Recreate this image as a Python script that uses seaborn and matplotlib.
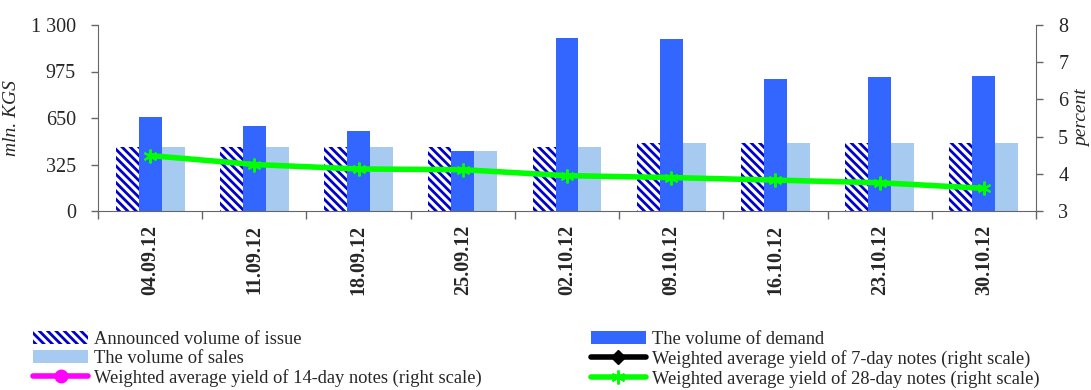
import numpy as np
import pandas as pd
import matplotlib
matplotlib.use("Agg")
import matplotlib.pyplot as plt
from matplotlib.patches import Patch
from matplotlib.lines import Line2D
from matplotlib.ticker import FixedLocator, NullFormatter, FixedFormatter
import seaborn as sns

# ---- data ----
dates = ["04.09.12", "11.09.12", "18.09.12", "25.09.12", "02.10.12",
         "09.10.12", "16.10.12", "23.10.12", "30.10.12"]
announced = [450, 450, 450, 450, 450, 473, 473, 474, 474]
demand = [655, 592, 559, 421, 1207, 1200, 924, 934, 944]
sales = [450, 450, 450, 421, 450, 473, 473, 474, 474]
yield_7 = [np.nan] * 9
yield_14 = [np.nan] * 9
yield_28 = [4.49, 4.25, 4.13, 4.11, 3.95, 3.90, 3.83, 3.76, 3.61]

left_ticks = [0, 325, 650, 975, 1300]
left_labels = ["0", "325", "650", "975", "1 300"]
right_ticks = [3, 4, 5, 6, 7, 8]

series_names = ["Announced volume of issue", "The volume of demand", "The volume of sales"]
c_hatch = "#0000CC"
c_demand = "#3366FF"
c_sales = "#A6CAF0"
c_green = "#00FF00"

sns.set_style("ticks")
plt.rcParams["font.family"] = ["Liberation Serif", "DejaVu Serif"]
plt.rcParams["hatch.linewidth"] = 2.0
axis_col = "#666666"

df = pd.DataFrame({
    "date": dates * 3,
    "value": announced + demand + sales,
    "series": [series_names[0]] * 9 + [series_names[1]] * 9 + [series_names[2]] * 9,
})

fig = plt.figure(figsize=(10.91, 3.90), dpi=100)
ax = fig.add_axes([98 / 1091, 1 - 211 / 390, (1036 - 98) / 1091, (211 - 25) / 390])

sns.barplot(data=df, x="date", y="value", hue="series", hue_order=series_names,
            palette=["white", c_demand, c_sales], width=0.66, gap=0,
            ax=ax, legend=False, errorbar=None, saturation=1)

for i, cont in enumerate(ax.containers):
    for p in cont.patches:
        p.set_linewidth(0)
        if i == 0:
            p.set_facecolor("white")
            p.set_edgecolor(c_hatch)
            p.set_hatch("\\\\\\\\")
        else:
            p.set_edgecolor(p.get_facecolor())

n = len(dates)
ax.set_xlim(-0.5, n - 0.5)
ax.set_ylim(0, 1300)
ax.set_yticks(left_ticks)
ax.set_yticklabels(left_labels)
ax.set_ylabel("mln. KGS", fontsize=14, style="italic")
ax.yaxis.set_label_coords(-0.083, 0.5)
ax.set_xlabel("")

# x ticks: marks at category boundaries, labels at centres
ax.xaxis.set_major_locator(FixedLocator(np.arange(-0.5, n, 1.0)))
ax.xaxis.set_major_formatter(NullFormatter())
ax.xaxis.set_minor_locator(FixedLocator(np.arange(n)))
ax.xaxis.set_minor_formatter(FixedFormatter(dates))
ax.tick_params(axis="x", which="major", length=6, width=1, color=axis_col, direction="out")
ax.tick_params(axis="x", which="minor", length=0, pad=10, labelsize=14.5, labelrotation=90)
for lbl in ax.xaxis.get_minorticklabels():
    lbl.set_fontweight("bold")
ax.tick_params(axis="y", length=5, width=1, color=axis_col, direction="out", pad=11, labelsize=14.5)

for s in ["left", "bottom"]:
    ax.spines[s].set_color(axis_col)
ax.spines["top"].set_visible(False)
ax.spines["right"].set_visible(False)

ax2 = ax.twinx()
x_pos = np.arange(n)
sns.lineplot(x=x_pos, y=yield_28, ax=ax2, color=c_green, linewidth=4,
             marker=(6, 2, 0), markersize=10, markeredgewidth=1.5,
             markeredgecolor=c_green)
ax2.set_ylim(3, 8)
ax2.set_yticks(right_ticks)
ax2.set_ylabel("percent", fontsize=14, style="italic")
ax2.yaxis.set_label_coords(1.05, 0.5)
ax2.yaxis.label.set_verticalalignment("center")
ax2.tick_params(axis="y", length=5, width=1, color=axis_col, direction="out", pad=11, labelsize=14.5)
ax2.spines["right"].set_visible(True)
ax2.spines["right"].set_color(axis_col)
ax2.spines["top"].set_visible(False)
ax2.spines["left"].set_visible(False)
ax2.spines["bottom"].set_visible(False)
ax2.set_xlim(-0.5, n - 0.5)

# legend
h_ann = Patch(facecolor="white", edgecolor=c_hatch, hatch="\\\\\\\\", linewidth=0)
h_dem = Patch(facecolor=c_demand, edgecolor=c_demand, linewidth=0)
h_sal = Patch(facecolor=c_sales, edgecolor=c_sales, linewidth=0)
h7 = Line2D([], [], color="black", linewidth=4, marker="D", markersize=7)
h14 = Line2D([], [], color="#FF00FF", linewidth=4, marker="o", markersize=9)
h28 = Line2D([], [], color=c_green, linewidth=4, marker=(6, 2, 0), markersize=10,
             markeredgewidth=1.5)
handles = [h_ann, h_sal, h14, h_dem, h7, h28]
labels = ["Announced volume of issue", "The volume of sales",
          "Weighted average yield of 14-day notes (right scale)",
          "The volume of demand",
          "Weighted average yield of 7-day notes (right scale)",
          "Weighted average yield of 28-day notes (right scale)"]
fig.legend(handles, labels, ncol=2, loc="upper left",
           bbox_to_anchor=(33 / 1091, 1 - 331 / 390), frameon=False,
           fontsize=13.3, handlelength=3.0, handletextpad=0.3,
           columnspacing=5.9, labelspacing=0.1, borderpad=0, borderaxespad=0)

fig.savefig("out.png", dpi=100)
